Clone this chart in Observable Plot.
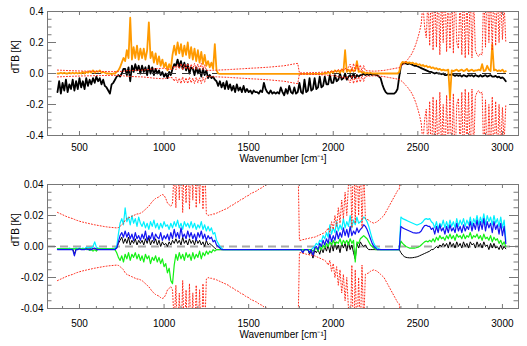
<!DOCTYPE html>
<html><head><meta charset="utf-8">
<script src="https://cdn.jsdelivr.net/npm/d3@7"></script>
<script src="https://cdn.jsdelivr.net/npm/@observablehq/plot@0.6"></script>
<style>
body{margin:0;background:#fff;}
#chart{width:527px;height:346px;}
#chart svg{display:block;}
</style></head><body><div id="chart"></div>
<script>
// wavenumber grid: 370 .. 3020 cm-1, step 10
const wnStart = 370, wnStep = 10;

// ---- top panel series (K) ----
const topBlack = [
-0.12,-0.05,-0.13,-0.06,-0.11,-0.04,-0.12,-0.07,-0.10,-0.04,
-0.11,-0.05,-0.10,-0.03,-0.09,-0.05,-0.10,-0.03,-0.08,-0.04,
-0.07,-0.03,-0.06,-0.02,-0.05,-0.03,-0.07,-0.04,-0.08,-0.09,
-0.11,-0.13,-0.07,-0.06,-0.04,-0.02,-0.01,-0.02,0.00,0.03,
0.03,-0.01,0.04,-0.05,0.05,0.01,0.06,0.02,0.05,0.00,
0.05,0.01,0.04,-0.01,0.05,0.00,0.04,-0.01,0.03,0.00,
0.02,-0.01,0.01,-0.02,0.00,-0.03,0.01,-0.01,0.03,0.06,
0.05,0.09,0.04,0.08,0.03,0.07,0.02,0.06,0.00,0.04,
0.03,-0.01,0.04,0.00,0.03,-0.02,0.03,-0.01,0.02,-0.03,
-0.01,-0.03,-0.02,-0.04,-0.05,-0.08,-0.05,-0.09,-0.06,-0.10,
-0.05,-0.10,-0.07,-0.11,-0.08,-0.12,-0.07,-0.11,-0.09,-0.12,
-0.08,-0.12,-0.10,-0.12,-0.11,-0.13,-0.11,-0.12,-0.12,-0.13,
-0.11,-0.12,-0.06,-0.10,-0.12,-0.13,-0.11,-0.13,-0.12,-0.13,
-0.12,-0.13,-0.09,-0.12,-0.14,-0.10,-0.13,-0.08,-0.12,-0.13,
-0.09,-0.13,-0.12,-0.06,-0.12,-0.13,-0.04,-0.12,-0.11,-0.03,
-0.11,-0.10,-0.03,-0.10,-0.09,-0.02,-0.09,-0.08,-0.02,-0.07,
-0.07,-0.01,-0.06,-0.06,-0.01,-0.05,-0.04,0.00,-0.04,-0.03,
0.00,-0.04,-0.02,-0.01,-0.03,0.00,-0.03,-0.01,-0.02,-0.01,
-0.01,0.00,-0.01,-0.005,-0.01,0.00,-0.01,-0.005,-0.01,-0.01,
-0.02,-0.03,-0.07,-0.10,-0.12,-0.13,-0.13,-0.13,-0.13,-0.13,
-0.12,-0.10,-0.02,0.05,0.065,0.065,0.065,0.06,0.065,0.06,
0.055,0.05,0.05,0.045,0.04,0.035,0.03,0.025,0.02,0.015,
0.01,0.01,0.005,0.00,0.005,0.00,0.00,-0.005,0.00,-0.01,
-0.01,-0.005,-0.01,-0.005,-0.01,-0.015,-0.01,-0.015,-0.01,-0.02,
-0.01,-0.015,-0.02,-0.01,-0.015,-0.01,-0.02,-0.01,-0.015,-0.02,
-0.01,-0.02,-0.015,-0.01,-0.02,-0.015,-0.01,-0.02,-0.02,-0.015,
-0.025,-0.02,-0.03,-0.025,-0.035,-0.05];

const topOrange = [
0.000,0.000,0.005,0.000,0.005,0.000,0.000,0.005,0.000,0.005,
0.000,0.005,0.000,0.005,0.000,0.010,0.000,0.010,0.005,0.015,
0.005,0.020,0.005,0.015,0.010,0.020,0.005,0.010,0.005,0.000,
0.000,0.000,-0.005,0.000,0.000,0.010,0.020,0.040,0.070,0.100,
0.08,0.15,0.10,0.36,0.09,0.17,0.10,0.18,0.09,0.16,
0.10,0.16,0.09,0.15,0.33,0.10,0.14,0.07,0.13,0.06,
0.11,0.05,0.09,0.04,0.07,0.02,0.06,0.03,0.12,0.18,
0.12,0.20,0.13,0.19,0.11,0.18,0.12,0.20,0.10,0.17,
0.09,0.16,0.08,0.15,0.07,0.14,0.06,0.12,0.05,0.08,
0.04,0.07,0.03,0.19,0.02,0.00,-0.003,-0.003,-0.003,-0.003,
-0.003,-0.003,-0.003,-0.003,-0.003,-0.003,-0.003,-0.003,-0.003,-0.003,
-0.003,-0.003,-0.003,-0.003,-0.003,-0.003,-0.003,-0.003,-0.003,-0.003,
-0.003,-0.003,-0.003,-0.003,-0.003,-0.003,-0.003,-0.003,-0.003,-0.003,
-0.003,-0.003,-0.003,-0.003,-0.003,-0.003,-0.003,-0.003,-0.003,-0.003,
-0.003,-0.003,-0.003,-0.003,-0.003,-0.003,-0.003,-0.003,-0.003,-0.003,
-0.003,-0.003,-0.003,-0.003,-0.003,-0.003,-0.003,-0.003,0.005,0.000,
0.010,0.000,0.015,0.005,0.020,0.010,0.020,0.005,0.025,0.010,
0.150,0.010,0.025,0.010,0.030,0.015,0.020,0.080,0.010,0.015,
0.005,0.010,0.000,0.005,0.000,0.005,0.000,0.000,0.000,0.000,
0.000,0.000,0.000,0.000,0.000,0.000,0.000,0.000,0.000,0.000,
0.000,0.000,0.010,0.060,0.075,0.070,0.075,0.068,0.072,0.065,
0.070,0.060,0.065,0.055,0.060,0.050,0.055,0.045,0.050,0.040,
0.045,0.035,0.040,0.030,0.035,0.025,0.030,0.020,0.025,0.020,
0.020,0.025,-0.160,0.020,0.015,0.020,0.025,0.015,0.020,0.025,
0.015,0.020,0.030,0.015,0.020,0.025,0.015,0.020,0.020,0.025,
0.020,0.060,0.015,0.020,0.050,0.025,0.015,0.190,0.020,0.025,
0.015,0.020,0.015,0.025,0.010,0.015];

// noise standard deviation (red dotted, shown as +/-)
const noiseSd = [
.022,.0215,.021,.0205,.020,.0195,.019,.0187,.0183,.018,
.0175,.017,.0167,.0163,.016,.0157,.0155,.0152,.015,.0147,
.0145,.0142,.014,.0138,.0136,.0134,.0132,.013,.0128,.0127,
.0125,.0124,.0123,.0122,.0121,.012,.0122,.013,.014,.015,
.017,.018,.0185,.019,.0195,.020,.0205,.021,.021,.0215,
.022,.023,.024,.025,.026,.0275,.029,.030,.031,.0315,
.032,.033,.0335,.033,.031,.028,.027,.026,.028,.050,
.025,.060,.030,.065,.022,.060,.028,.065,.024,.060,
.030,.065,.025,.060,.028,.065,.024,.055,.021,.020,
.0205,.0205,.021,.021,.0215,.022,.0225,.023,.0235,.024,
.0245,.025,.026,.0265,.027,.028,.0285,.029,.030,.0305,
.031,.032,.0325,.033,.034,.0345,.035,.0355,.036,.037,
.0375,.038,.039,.0395,.040,.041,.042,.043,.044,.045,
.046,.047,.048,.049,.050,.052,.054,.056,.058,.060,
.062,.064,.065,.004,.004,.0045,.0045,.005,.005,.0055,
.0055,.006,.006,.0065,.007,.0075,.008,.0085,.009,.010,
.012,.009,.016,.011,.020,.013,.025,.015,.030,.018,
.035,.020,.040,.060,.012,.065,.015,.060,.020,.055,
.012,.050,.018,.0175,.017,.016,.0155,.015,.0155,.016,
.017,.018,.019,.020,.022,.024,.026,.028,.030,.032,
.034,.036,.037,.045,.055,.065,.078,.090,.105,.120,
.14,.165,.195,.23,.27,.32,.45,.30,.23,.50,
.18,.60,.15,.55,.17,.60,.12,.50,.20,.60,
.14,.50,.16,.55,.13,.60,.20,.16,.50,.12,
.60,.10,.50,.12,.55,.10,.50,.15,.12,.11,
.13,.12,.55,.17,.60,.20,.50,.15,.60,.18,
.55,.20,.50,.22,.45,.20];

// ---- bottom panel series (K) ----
const botCyan = [
-0.0015,-0.0015,-0.0015,-0.0015,-0.0015,-0.0015,-0.0015,-0.001,-0.0015,-0.0015,
-0.0015,-0.001,-0.0015,-0.001,-0.0015,-0.001,-0.0015,-0.0005,-0.001,-0.0005,
-0.001,0.000,0.003,-0.0005,-0.001,-0.0015,-0.0015,-0.0015,-0.0015,-0.0015,
-0.0015,-0.0015,-0.0015,-0.0015,-0.001,0.000,0.008,0.015,0.018,0.014,
0.025,0.016,0.019,0.014,0.020,0.015,0.018,0.013,0.019,0.015,
0.013,0.016,0.012,0.015,0.011,0.016,0.013,0.017,0.012,0.015,
0.011,0.015,0.012,0.016,0.013,0.014,0.011,0.015,0.012,0.016,
0.013,0.017,0.012,0.015,0.011,0.016,0.013,0.015,0.012,0.016,
0.012,0.015,0.011,0.014,0.012,0.016,0.011,0.014,0.010,0.013,
0.010,0.012,0.008,0.009,0.004,0.002,0.000,-0.001,-0.002,-0.002,
-0.002,-0.002,-0.002,-0.002,-0.002,-0.002,-0.002,-0.002,-0.002,-0.002,
-0.002,-0.002,-0.002,-0.002,-0.002,-0.002,-0.002,-0.002,-0.002,-0.002,
-0.002,-0.002,-0.002,-0.002,-0.002,-0.002,-0.002,-0.002,-0.002,-0.002,
-0.002,-0.002,-0.002,-0.002,-0.002,-0.002,-0.002,-0.002,-0.002,-0.002,
-0.002,-0.002,-0.002,-0.002,-0.002,-0.002,-0.002,-0.002,-0.002,-0.002,
-0.002,-0.001,0.000,0.002,0.001,0.004,0.003,0.007,0.005,0.009,
0.006,0.014,0.008,0.012,0.009,0.016,0.010,0.014,0.011,0.018,
0.012,0.016,0.013,0.020,0.012,0.017,0.014,0.019,0.015,0.016,
0.017,0.019,0.018,0.016,0.013,0.009,0.005,0.002,0.000,-0.001,
-0.0015,-0.002,-0.002,-0.002,-0.002,-0.002,-0.002,-0.002,-0.002,-0.002,
-0.002,-0.002,-0.002,0.019,0.018,0.0175,0.017,0.0165,0.016,0.0155,
0.015,0.0145,0.014,0.014,0.0145,0.015,0.016,0.0175,0.018,0.0175,
0.018,0.016,0.015,0.012,0.016,0.011,0.015,0.013,0.017,0.012,
0.016,0.012,0.017,0.013,0.016,0.012,0.018,0.013,0.017,0.014,
0.018,0.013,0.017,0.014,0.019,0.013,0.018,0.015,0.020,0.014,
0.019,0.015,0.021,0.014,0.020,0.016,0.019,0.014,0.020,0.015,
0.018,0.013,0.019,0.012,0.017,0.004];

const botBlue = [
-0.002,-0.002,-0.002,-0.002,-0.002,-0.002,-0.002,-0.002,-0.002,-0.002,
-0.006,-0.002,-0.002,-0.0015,-0.002,-0.002,-0.002,-0.0015,-0.002,-0.002,
-0.002,-0.0015,-0.001,-0.002,-0.002,-0.002,-0.002,-0.002,-0.002,-0.002,
-0.002,-0.002,-0.002,-0.002,-0.002,-0.001,0.003,0.007,0.009,0.006,
0.010,0.006,0.009,0.005,0.008,0.004,0.009,0.005,0.007,0.004,
0.008,0.005,0.010,0.004,0.007,0.005,0.009,0.004,0.008,0.006,
0.005,0.009,0.004,0.007,0.005,0.008,0.004,0.009,0.005,0.011,
0.006,0.009,0.005,0.012,0.006,0.008,0.005,0.010,0.006,0.009,
0.005,0.008,0.004,0.009,0.006,0.010,0.005,0.008,0.004,0.007,
0.005,0.006,0.003,0.004,0.001,0.000,-0.001,-0.002,-0.002,-0.002,
-0.002,-0.002,-0.002,-0.002,-0.002,-0.002,-0.002,-0.002,-0.002,-0.002,
-0.002,-0.002,-0.002,-0.002,-0.002,-0.002,-0.002,-0.002,-0.002,-0.002,
-0.002,-0.002,-0.002,-0.002,-0.002,-0.002,-0.002,-0.002,-0.002,-0.002,
-0.002,-0.002,-0.002,-0.002,-0.002,-0.002,-0.002,-0.002,-0.002,-0.002,
-0.002,-0.002,-0.002,-0.002,-0.002,-0.004,-0.002,-0.002,-0.002,-0.004,
-0.002,-0.006,-0.001,0.000,-0.002,0.002,0.000,0.004,0.001,0.005,
0.002,0.008,0.003,0.007,0.004,0.010,0.005,0.009,0.006,0.012,
0.007,0.011,0.006,0.013,0.007,0.010,0.008,0.012,0.009,0.011,
0.012,0.014,0.013,0.011,0.008,0.005,0.002,0.000,-0.001,-0.002,
-0.002,-0.002,-0.002,-0.002,-0.002,-0.002,-0.002,-0.002,-0.002,-0.002,
-0.002,-0.002,-0.002,0.013,0.012,0.0115,0.011,0.0105,0.010,0.0095,
0.009,0.0088,0.0086,0.0088,0.009,0.010,0.012,0.0135,0.0137,0.013,
0.013,0.011,0.012,0.008,0.013,0.009,0.014,0.010,0.012,0.008,
0.013,0.009,0.014,0.010,0.012,0.009,0.015,0.010,0.013,0.009,
0.014,0.010,0.013,0.011,0.016,0.010,0.015,0.011,0.017,0.010,
0.016,0.011,0.018,0.010,0.016,0.012,0.015,0.009,0.016,0.011,
0.014,0.008,0.015,0.007,0.013,0.002];

const botGreen = [
-0.0015,-0.0015,-0.0015,-0.0015,-0.0015,-0.0015,-0.0015,-0.0015,-0.0015,-0.0015,
-0.0015,-0.0015,-0.0015,-0.0015,-0.0015,-0.0015,-0.0015,-0.002,-0.0015,-0.0025,
-0.002,-0.003,-0.002,-0.003,-0.0015,-0.0015,-0.0015,-0.0015,-0.0015,-0.0015,
-0.0015,-0.0015,-0.0015,-0.0015,-0.002,-0.004,-0.007,-0.009,-0.006,-0.010,
-0.005,-0.008,-0.004,-0.009,-0.005,-0.007,-0.004,-0.008,-0.005,-0.009,
-0.006,-0.010,-0.005,-0.008,-0.006,-0.011,-0.007,-0.009,-0.006,-0.010,
-0.007,-0.011,-0.008,-0.013,-0.011,-0.017,-0.014,-0.022,-0.024,-0.012,
-0.005,-0.009,-0.004,-0.008,-0.005,-0.009,-0.004,-0.007,-0.005,-0.009,
-0.004,-0.008,-0.005,-0.007,-0.003,-0.008,-0.004,-0.006,-0.003,-0.005,
-0.003,-0.004,-0.002,-0.003,-0.002,-0.002,-0.002,-0.002,-0.002,-0.002,
-0.002,-0.002,-0.002,-0.002,-0.002,-0.002,-0.002,-0.002,-0.002,-0.002,
-0.002,-0.002,-0.002,-0.002,-0.002,-0.002,-0.002,-0.002,-0.002,-0.002,
-0.002,-0.002,-0.002,-0.002,-0.002,-0.002,-0.002,-0.002,-0.002,-0.002,
-0.002,-0.002,-0.002,-0.002,-0.002,-0.002,-0.002,-0.002,-0.002,-0.002,
-0.002,-0.002,-0.002,-0.002,-0.002,-0.002,-0.002,-0.002,-0.002,-0.002,
-0.002,-0.003,-0.002,-0.001,-0.003,0.000,-0.002,0.001,-0.001,0.002,
0.000,0.003,0.001,0.004,0.001,0.003,0.002,0.005,0.001,0.004,
0.002,0.004,0.001,0.005,0.002,0.004,-0.010,0.003,0.002,0.005,
0.006,0.007,0.006,0.005,0.003,0.001,0.000,-0.001,-0.002,-0.002,
-0.002,-0.002,-0.002,-0.002,-0.002,-0.002,-0.002,-0.002,-0.002,-0.002,
-0.002,-0.002,-0.002,0.0035,0.002,0.001,0.000,-0.0005,-0.001,-0.001,
-0.001,-0.001,-0.0008,-0.0005,0.000,0.001,0.002,0.003,0.0035,0.003,
0.004,0.003,0.005,0.003,0.006,0.004,0.007,0.005,0.006,0.004,
0.007,0.005,0.008,0.005,0.007,0.004,0.008,0.006,0.007,0.005,
0.008,0.005,0.007,0.006,0.009,0.005,0.007,0.006,0.008,0.005,
0.007,0.004,0.008,0.005,0.006,0.004,0.007,0.003,0.006,0.004,
0.005,0.002,0.004,0.001,0.003,0.000];

const botBlack = [
-0.0015,-0.0015,-0.0015,-0.0015,-0.0015,-0.0015,-0.0015,-0.0015,-0.0015,-0.0015,
-0.005,-0.0015,-0.0015,-0.0015,-0.0015,-0.0015,-0.0015,-0.0015,-0.0015,-0.0015,
-0.0015,-0.0015,-0.0015,-0.0015,-0.0015,-0.0015,-0.0015,-0.0015,-0.0015,-0.0015,
-0.0015,-0.0015,-0.0015,-0.0015,-0.0015,-0.001,0.002,0.004,0.006,0.002,
0.005,0.002,0.006,0.001,0.004,0.002,0.005,0.001,0.004,0.002,
0.004,0.001,0.005,0.002,0.006,0.001,0.004,0.002,0.005,0.001,
0.004,0.000,0.003,0.001,0.002,0.000,0.003,0.001,0.004,0.002,
0.005,0.002,0.004,0.001,0.006,0.002,0.004,0.001,0.005,0.002,
0.004,0.001,0.005,0.002,0.004,0.001,0.003,0.000,0.004,0.001,
0.002,0.001,0.000,-0.001,-0.002,-0.002,-0.002,-0.002,-0.002,-0.002,
-0.002,-0.002,-0.002,-0.002,-0.002,-0.002,-0.002,-0.002,-0.002,-0.002,
-0.002,-0.002,-0.002,-0.002,-0.002,-0.002,-0.002,-0.002,-0.002,-0.002,
-0.002,-0.002,-0.002,-0.002,-0.002,-0.002,-0.002,-0.002,-0.002,-0.002,
-0.002,-0.002,-0.002,-0.002,-0.002,-0.002,-0.002,-0.002,-0.002,-0.002,
-0.002,-0.002,-0.002,-0.002,-0.002,-0.004,-0.002,-0.002,-0.002,-0.005,
-0.0025,-0.0075,-0.0025,-0.004,-0.002,-0.005,-0.001,-0.004,0.000,-0.003,
0.001,-0.004,0.002,-0.003,0.003,-0.002,0.001,-0.004,0.002,-0.001,
0.002,-0.003,0.003,-0.002,0.001,-0.004,-0.008,0.002,-0.001,0.003,
0.001,0.000,0.001,-0.001,-0.002,-0.002,-0.002,-0.002,-0.002,-0.002,
-0.002,-0.002,-0.002,-0.002,-0.002,-0.002,-0.002,-0.002,-0.002,-0.002,
-0.002,-0.002,-0.002,-0.004,-0.0055,-0.0065,-0.007,-0.0072,-0.0073,-0.0073,
-0.0072,-0.007,-0.0068,-0.0065,-0.006,-0.0055,-0.005,-0.0045,-0.004,-0.0035,
-0.003,-0.002,-0.002,-0.001,0.000,-0.001,0.001,0.000,0.002,0.000,
0.002,-0.001,0.003,0.000,0.002,-0.001,0.003,0.000,0.002,-0.001,
0.003,0.000,0.002,-0.001,0.003,0.001,0.002,-0.001,0.003,0.000,
0.002,-0.001,0.003,0.000,0.001,-0.002,0.002,-0.001,0.002,-0.001,
0.000,-0.002,0.001,-0.002,0.000,-0.0015];

// ---- axes ----
const xDomain = [311, 3095];
const xMajor = [500, 1000, 1500, 2000, 2500, 3000];
const xMinor = [400,600,700,800,900,1100,1200,1300,1400,1600,1700,1800,1900,2100,2200,2300,2400,2600,2700,2800,2900];
const topYMajor = [-0.4, -0.2, 0, 0.2, 0.4];
const topYMinor = [-0.35,-0.3,-0.25,-0.15,-0.1,-0.05,0.05,0.1,0.15,0.25,0.3,0.35];
const botYMajor = [-0.04, -0.02, 0, 0.02, 0.04];
const botYMinor = [-0.035,-0.03,-0.025,-0.015,-0.01,-0.005,0.005,0.01,0.015,0.025,0.03,0.035];
const xTitle = "Wavenumber [cm\u207B\u00B9]";
const yTitle = "dTB [K]";

const wn = topBlack.map((_, i) => wnStart + i * wnStep);
const W = 527, H = 173, mL = 47, mR = 9, mT = 11, mB = 38;
const FW = W - mL - mR, FH = H - mT - mB;
const axisColor = "#777";
const red = "#ff2a1a";

function decorations(yMajor, yMinor, fmt, shift) {
  return [
    Plot.frame({stroke: axisColor}),
    Plot.tickY(yMajor, {y: d => d, insetRight: FW - 9, stroke: axisColor}),
    Plot.tickY(yMajor, {y: d => d, insetLeft: FW - 9, stroke: axisColor}),
    Plot.tickY(yMinor, {y: d => d, insetRight: FW - 4.5, stroke: axisColor}),
    Plot.tickY(yMinor, {y: d => d, insetLeft: FW - 4.5, stroke: axisColor}),
    Plot.tickX(xMajor, {x: d => d, insetTop: FH - 4, stroke: axisColor}),
    Plot.tickX(xMajor, {x: d => d, insetBottom: FH - 4, stroke: axisColor}),
    Plot.tickX(xMinor, {x: d => d, insetTop: FH - 2, stroke: axisColor}),
    Plot.tickX(xMinor, {x: d => d, insetBottom: FH - 2, stroke: axisColor}),
    Plot.axisX({ticks: xMajor, tickSize: 0, tickPadding: 8 + shift, tickFormat: d => String(d), label: null, fontSize: 10}),
    Plot.axisY({ticks: yMajor, tickSize: 0, tickPadding: 4, tickFormat: fmt, label: null, fontSize: 10}),
    Plot.text([xTitle], {frameAnchor: "bottom", dy: 26 + shift, text: d => d, fontSize: 10, fill: "black"}),
    Plot.text([yTitle], {frameAnchor: "left", dx: -32, rotate: -90, text: d => d, fontSize: 10, fill: "black"})
  ];
}

const common = {
  width: W, height: H, marginLeft: mL, marginRight: mR, marginTop: mT, marginBottom: mB,
  style: {fontFamily: "'Liberation Sans', Arial, sans-serif", fontSize: "10px", color: "black", background: "white", overflow: "visible"}
};
const negSd = noiseSd.map(v => -v);

const topChart = Plot.plot({
  ...common,
  x: {domain: xDomain, axis: null},
  y: {domain: [-0.4, 0.4], axis: null},
  marks: [
    Plot.line(topBlack, {x: wn, y: topBlack, stroke: "black", strokeWidth: 1.8, clip: true}),
    Plot.ruleY([0], {stroke: "#333", strokeDasharray: "9,6", strokeWidth: 1}),
    Plot.line(topOrange, {x: wn, y: topOrange, stroke: "#ff9a00", strokeWidth: 1.8, clip: true}),
    Plot.line(noiseSd, {x: wn, y: noiseSd, stroke: red, strokeWidth: 1, strokeDasharray: "1,2", clip: true}),
    Plot.line(negSd, {x: wn, y: negSd, stroke: red, strokeWidth: 1, strokeDasharray: "1,2", clip: true}),
    ...decorations(topYMajor, topYMinor, d => d.toFixed(1), 0)
  ]
});

const bottomChart = Plot.plot({
  ...common,
  x: {domain: xDomain, axis: null},
  y: {domain: [-0.04, 0.04], axis: null},
  marks: [
    Plot.ruleY([0], {stroke: "#a8a8a8", strokeDasharray: "8,5", strokeWidth: 2}),
    Plot.line(botBlack, {x: wn, y: botBlack, stroke: "black", strokeWidth: 1, clip: true}),
    Plot.line(botCyan, {x: wn, y: botCyan, stroke: "#00f0ff", strokeWidth: 1.2, clip: true}),
    Plot.line(botGreen, {x: wn, y: botGreen, stroke: "#14f014", strokeWidth: 1.2, clip: true}),
    Plot.line(botBlue, {x: wn, y: botBlue, stroke: "#1414f0", strokeWidth: 1.2, clip: true}),
    Plot.line(noiseSd, {x: wn, y: noiseSd, stroke: red, strokeWidth: 1, strokeDasharray: "1,2", clip: true}),
    Plot.line(negSd, {x: wn, y: negSd, stroke: red, strokeWidth: 1, strokeDasharray: "1,2", clip: true}),
    ...decorations(botYMajor, botYMinor, d => d.toFixed(2), 3)
  ]
});

document.getElementById("chart").append(topChart, bottomChart);
</script></body></html>
